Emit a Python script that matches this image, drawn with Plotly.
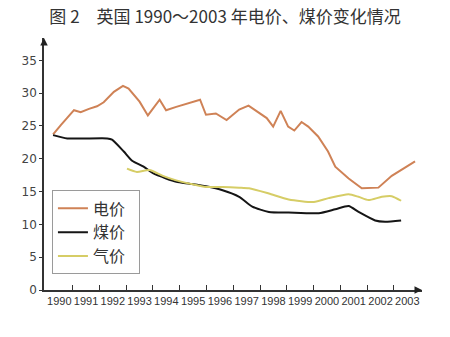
import plotly.graph_objects as go

# Electricity price (电价)
elec_x = [1990.27, 1990.55, 1991.05, 1991.30, 1991.61, 1991.91, 1992.16, 1992.54, 1992.88, 1993.09,
          1993.50, 1993.81, 1994.25, 1994.49, 1994.87, 1995.36, 1995.76, 1995.98, 1996.35, 1996.75,
          1997.22, 1997.57, 1997.88, 1998.25, 1998.49, 1998.77, 1999.05, 1999.28, 1999.55, 1999.80,
          2000.17, 2000.54, 2000.81, 2001.31, 2001.80, 2002.42, 2002.92, 2003.79]
elec_y = [23.7, 25.1, 27.4, 27.1, 27.6, 28.0, 28.6, 30.2, 31.1, 30.7,
          28.7, 26.6, 29.0, 27.4, 27.9, 28.5, 29.0, 26.7, 26.9, 25.9,
          27.5, 28.1, 27.2, 26.2, 24.9, 27.3, 24.9, 24.3, 25.6, 24.9,
          23.4, 21.1, 18.8, 17.0, 15.5, 15.6, 17.4, 19.6]

# Coal price (煤价)
coal_x = [1990.27, 1990.80, 1992.29, 1992.47, 1992.91, 1993.22, 1993.65, 1994.00, 1994.49, 1994.87,
          1995.36, 1995.98, 1996.60, 1997.22, 1997.71, 1998.33, 1999.07, 2000.19, 2000.81, 2001.31,
          2001.68, 2002.30, 2002.67, 2003.27]
coal_y = [23.6, 23.1, 23.1, 22.9, 21.1, 19.7, 18.8, 17.8, 17.0, 16.5,
          16.2, 15.8, 15.2, 14.2, 12.7, 11.9, 11.8, 11.7, 12.3, 12.8,
          11.9, 10.6, 10.4, 10.6]

# Gas price (气价)
gas_x = [1993.03, 1993.40, 1993.87, 1994.37, 1994.87, 1995.48, 1995.98, 1996.60, 1997.22, 1997.59,
         1998.33, 1999.07, 2000.01, 2000.56, 2001.31, 2001.68, 2002.05, 2002.55, 2002.92, 2003.27]
gas_y = [18.5, 18.0, 18.3, 17.4, 16.7, 16.1, 15.7, 15.7, 15.6, 15.5,
         14.7, 13.8, 13.4, 14.0, 14.6, 14.2, 13.7, 14.2, 14.3, 13.6]

years = list(range(1990, 2004))
y_ticks = [0, 5, 10, 15, 20, 25, 30, 35]
title_text = "图 2　英国 1990～2003 年电价、煤价变化情况"
names = ["电价", "煤价", "气价"]
pad = "\u2002"

fig = go.Figure()
fig.add_trace(go.Scatter(x=elec_x, y=elec_y, mode="lines", name=names[0] + pad,
                         line=dict(color="#CF8256", width=2)))
fig.add_trace(go.Scatter(x=coal_x, y=coal_y, mode="lines", name=names[1] + pad,
                         line=dict(color="#151515", width=2, shape="spline", smoothing=0.6)))
fig.add_trace(go.Scatter(x=gas_x, y=gas_y, mode="lines", name=names[2] + pad,
                         line=dict(color="#D6CD66", width=2, shape="spline", smoothing=0.6)))

fig.update_layout(
    width=450, height=337,
    margin=dict(l=44, r=28, t=38, b=47),
    paper_bgcolor="white", plot_bgcolor="white",
    title=dict(text=title_text, x=0.5, xref="container", xanchor="center",
               y=1 - 17 / 337, yanchor="middle",
               font=dict(family="Noto Sans CJK SC", size=17, color="#333")),
    legend=dict(x=0.021, y=0.395, xanchor="left", yanchor="top",
                bordercolor="#9a9a9a", borderwidth=1, bgcolor="white",
                font=dict(family="Noto Sans CJK SC", size=16, color="#333"),
                tracegroupgap=0, itemwidth=30),
    showlegend=True,
)

fig.update_xaxes(
    range=[1989.93, 2004.05],
    tickvals=[y + 0.5 for y in years], ticktext=[str(y) for y in years],
    ticks="", showgrid=False, zeroline=False,
    showline=True, linecolor="#333", linewidth=1.5,
    tickfont=dict(family="Liberation Sans", size=11, color="#333"),
    minor=dict(tickvals=years[1:], ticks="inside", ticklen=5, tickwidth=1.2,
               tickcolor="#333", showgrid=False),
)
fig.update_yaxes(
    range=[0, 38.4], tickvals=y_ticks,
    ticks="outside", ticklen=3, tickcolor="#333",
    showgrid=False, zeroline=False,
    showline=True, linecolor="#333", linewidth=1.5,
    tickfont=dict(family="DejaVu Sans", size=12, color="#444"),
)

# axis arrows
fig.add_annotation(x=1.0, y=0, xref="paper", yref="paper", ax=-8, ay=0,
                   axref="pixel", ayref="pixel", showarrow=True, arrowhead=2,
                   arrowsize=1, arrowwidth=1.5, arrowcolor="#222", text="")
fig.add_annotation(x=0, y=1.0, xref="paper", yref="paper", ax=0, ay=8,
                   axref="pixel", ayref="pixel", showarrow=True, arrowhead=2,
                   arrowsize=1, arrowwidth=1.5, arrowcolor="#222", text="")

fig.write_html("out.html")
